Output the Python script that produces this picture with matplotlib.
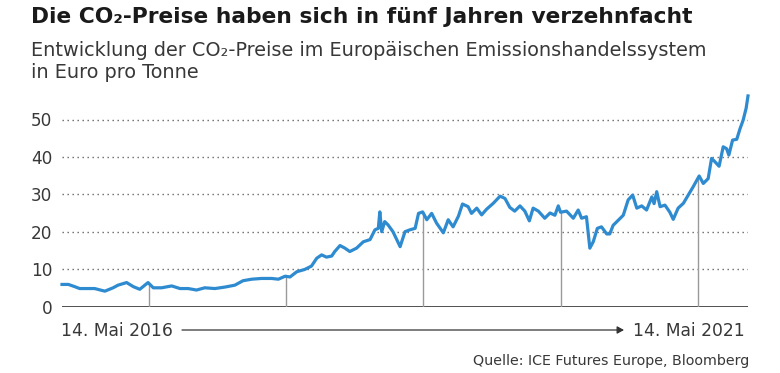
import matplotlib
matplotlib.use('Agg')
import matplotlib.pyplot as plt
import numpy as np
import pandas as pd

plt.rcParams['font.family'] = ['DejaVu Sans']

# CO2 price (EUR per tonne)
dates = [
    '2016-05-14', '2016-05-31', '2016-06-17', '2016-06-30', '2016-07-23', '2016-08-09',
    '2016-09-05', '2016-09-27', '2016-10-10', '2016-11-02', '2016-11-20', '2016-12-07',
    '2016-12-29', '2017-01-12', '2017-02-03', '2017-03-02', '2017-03-24', '2017-04-15',
    '2017-05-07', '2017-05-29', '2017-06-25', '2017-07-22', '2017-08-17', '2017-09-08',
    '2017-10-01', '2017-10-27', '2017-11-23', '2017-12-11', '2017-12-29', '2018-01-11',
    '2018-01-29', '2018-02-19', '2018-03-09', '2018-03-23', '2018-04-05', '2018-04-18',
    '2018-05-02', '2018-05-10', '2018-05-24', '2018-06-06', '2018-06-19', '2018-07-07',
    '2018-07-25', '2018-08-12', '2018-08-25', '2018-09-03', '2018-09-07', '2018-09-12',
    '2018-09-20', '2018-09-29', '2018-10-12', '2018-10-31', '2018-11-13', '2018-11-26',
    '2018-12-10', '2018-12-19', '2018-12-30', '2019-01-10', '2019-01-23', '2019-02-05',
    '2019-02-23', '2019-03-08', '2019-03-21', '2019-04-04', '2019-04-15', '2019-04-30',
    '2019-05-09', '2019-05-23', '2019-06-05', '2019-06-18', '2019-07-06', '2019-07-24',
    '2019-08-06', '2019-08-19', '2019-09-01', '2019-09-15', '2019-09-28', '2019-10-10',
    '2019-10-20', '2019-11-03', '2019-11-20', '2019-12-04', '2019-12-17', '2019-12-26',
    '2020-01-01', '2020-01-17', '2020-02-04', '2020-02-17', '2020-02-26', '2020-03-10',
    '2020-03-19', '2020-03-28', '2020-04-08', '2020-04-19', '2020-05-03', '2020-05-11',
    '2020-05-20', '2020-06-02', '2020-06-16', '2020-06-29', '2020-07-11', '2020-07-22',
    '2020-08-04', '2020-08-17', '2020-08-31', '2020-09-06', '2020-09-13', '2020-09-22',
    '2020-10-05', '2020-10-18', '2020-10-27', '2020-11-09', '2020-11-23', '2020-12-06',
    '2020-12-19', '2021-01-04', '2021-01-15', '2021-01-28', '2021-02-06', '2021-02-15',
    '2021-02-26', '2021-03-09', '2021-03-18', '2021-03-24', '2021-04-03', '2021-04-14',
    '2021-04-23', '2021-05-01', '2021-05-09', '2021-05-14',
]
prices = [
    5.9, 5.9, 5.3, 4.8, 4.8, 4.8,
    4.1, 5.0, 5.7, 6.4, 5.3, 4.6,
    6.4, 5.0, 5.0, 5.5, 4.8, 4.8,
    4.4, 5.0, 4.8, 5.2, 5.7, 6.9,
    7.3, 7.5, 7.5, 7.3, 8.1, 7.9,
    9.3, 9.9, 10.8, 12.9, 13.8, 13.2,
    13.5, 14.7, 16.3, 15.6, 14.7, 15.6,
    17.3, 17.9, 20.5, 20.9, 25.3, 20.0,
    22.7, 21.8, 20.0, 16.0, 20.0, 20.5,
    20.9, 24.9, 25.3, 23.2, 24.9, 22.3,
    19.7, 23.2, 21.3, 24.1, 27.4, 26.7,
    24.9, 26.3, 24.5, 26.0, 27.6, 29.5,
    28.9, 26.5, 25.5, 26.9, 25.5, 22.9,
    26.3, 25.5, 23.6, 25.0, 24.4, 26.9,
    25.2, 25.5, 23.6, 25.8, 23.6, 24.0,
    15.6, 17.3, 20.9, 21.3, 19.4, 19.4,
    21.7, 23.0, 24.4, 28.5, 29.8, 26.3,
    26.9, 25.8, 29.3, 27.5, 30.7, 26.7,
    27.1, 25.2, 23.3, 26.3, 27.6, 29.8,
    32.0, 34.9, 32.9, 34.2, 39.6, 38.7,
    37.5, 42.7, 42.2, 40.5, 44.5, 44.7,
    47.6, 49.8, 53.0, 56.3,
]
year_marks = ['2017-01-01', '2018-01-01', '2019-01-01', '2020-01-01', '2021-01-01']
yticks = [0, 10, 20, 30, 40, 50]

title = 'Die CO\u2082-Preise haben sich in fünf Jahren verzehnfacht'
subtitle1 = 'Entwicklung der CO\u2082-Preise im Europäischen Emissionshandelssystem'
subtitle2 = 'in Euro pro Tonne'
start_label = '14. Mai 2016'
end_label = '14. Mai 2021'
source = 'Quelle: ICE Futures Europe, Bloomberg'

t = pd.to_datetime(dates)
marks = pd.to_datetime(year_marks)

W, H = 780, 373
fig = plt.figure(figsize=(W / 100, H / 100), dpi=100)
ax = fig.add_axes([62 / W, (H - 306.5) / H, 686 / W, 56.5 * 3.74 / H])

ax.set_xlim(t[0], t[-1])
ax.set_ylim(0, 56.5)

for y in yticks[1:]:
    ax.axhline(y, color='#666666', linewidth=1.0, linestyle=(0, (1, 2.6)), zorder=1)
ax.axhline(0, color='#333333', linewidth=1.2, zorder=2)

# year separators from zero up to the curve
tnum = t.values.astype('int64')
for m in marks:
    h = np.interp(m.value, tnum, prices)
    ax.plot([m, m], [0, h], color='#9a9a9a', linewidth=1.0, zorder=2)

ax.plot(t, prices, color='#2f8bd0', linewidth=2.3, solid_joinstyle='round', zorder=3, clip_on=False)

for s in ax.spines.values():
    s.set_visible(False)
ax.set_xticks([])
ax.set_yticks(yticks)
ax.tick_params(axis='y', length=0, pad=7, labelsize=12.2, labelcolor='#383838')

renderer = fig.canvas.get_renderer()


def fit(txt, width_px):
    # scale the font so the text spans the same width as in the reference
    w = txt.get_window_extent(renderer).width
    txt.set_fontsize(txt.get_fontsize() * width_px / w)


t1 = fig.text(31 / W, 1 - 22.7 / H, title, fontsize=16, fontweight='bold', color='#1a1a1a', va='baseline')
fit(t1, 662)
t2 = fig.text(31 / W, 1 - 56 / H, subtitle1, fontsize=13, color='#383838', va='baseline')
fit(t2, 674)
fig.text(31 / W, 1 - 78.3 / H, subtitle2, fontsize=t2.get_fontsize(), color='#383838', va='baseline')

t3 = fig.text(60.7 / W, 1 - 336 / H, start_label, fontsize=12, color='#383838', va='baseline')
fit(t3, 111)
fig.text(745 / W, 1 - 336 / H, end_label, fontsize=t3.get_fontsize(), color='#383838',
         va='baseline', ha='right')
fig.add_artist(matplotlib.patches.FancyArrowPatch(
    (182 / W, 1 - 330 / H), (624 / W, 1 - 330 / H), transform=fig.transFigure,
    arrowstyle='-|>,head_length=4,head_width=2.2', color='#333333', linewidth=0.9,
    shrinkA=0, shrinkB=0))
t4 = fig.text(749 / W, 1 - 365 / H, source, fontsize=10, color='#383838', va='baseline', ha='right')
fit(t4, 277)

fig.savefig('out.png', dpi=100)
